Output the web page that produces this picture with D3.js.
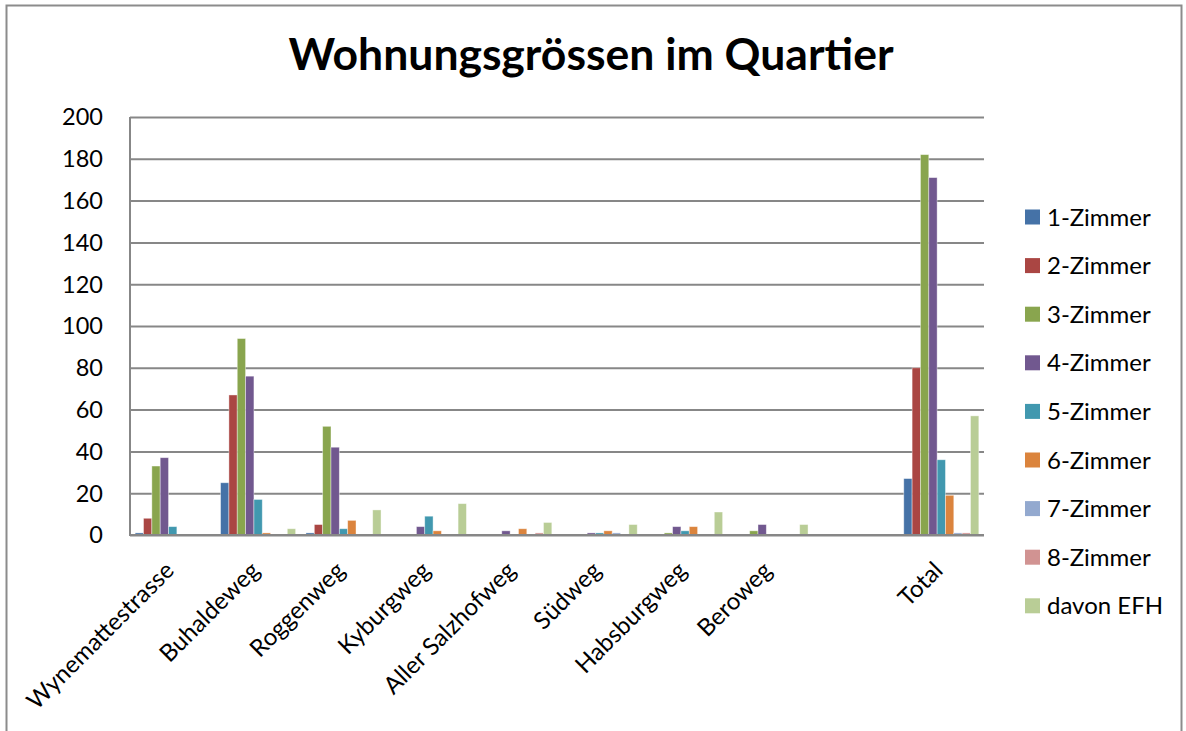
<!DOCTYPE html>
<meta charset="utf-8">
<style>

body {
  margin: 0;
  background: #fff;
}

text {
  font-family: Lato, "Open Sans", sans-serif;
  fill: #000;
}

</style>
<body>
<script src="https://cdn.jsdelivr.net/npm/d3@7"></script>
<script>

var width = 1186,
    height = 731;

var streets = ["Wynemattestrasse", "Buhaldeweg", "Roggenweg", "Kyburgweg", "Aller Salzhofweg",
               "Südweg", "Habsburgweg", "Beroweg", "", "Total"];

var seriesNames = ["1-Zimmer", "2-Zimmer", "3-Zimmer", "4-Zimmer", "5-Zimmer",
                   "6-Zimmer", "7-Zimmer", "8-Zimmer", "davon EFH"];

var colors = ["#4572a7", "#aa4643", "#89a54e", "#71588f", "#4198af",
              "#db843d", "#93a9cf", "#d19392", "#b9cd96"];

// one array per series, in street order
var zimmer1 = [1, 25, 1, 0, 0, 0, 0, 0, null, 27],
    zimmer2 = [8, 67, 5, 0, 0, 0, 0, 0, null, 80],
    zimmer3 = [33, 94, 52, 0, 0, 0, 1, 2, null, 182],
    zimmer4 = [37, 76, 42, 4, 2, 1, 4, 5, null, 171],
    zimmer5 = [4, 17, 3, 9, 0, 1, 2, 0, null, 36],
    zimmer6 = [0, 1, 7, 2, 3, 2, 4, 0, null, 19],
    zimmer7 = [0, 0, 0, 0, 0, 1, 0, 0, null, 1],
    zimmer8 = [0, 0, 0, 0, 1, 0, 0, 0, null, 1],
    efh     = [0, 3, 12, 15, 6, 5, 11, 5, null, 57];

var yTicks = [0, 20, 40, 60, 80, 100, 120, 140, 160, 180, 200];

var values = [zimmer1, zimmer2, zimmer3, zimmer4, zimmer5, zimmer6, zimmer7, zimmer8, efh];

var plot = {left: 130, right: 984, top: 117, bottom: 535};

var svg = d3.select("body").append("svg")
    .attr("width", width)
    .attr("height", height);

// chart frame
svg.append("rect")
    .attr("x", 6.5)
    .attr("y", 5.5)
    .attr("width", 1175)
    .attr("height", 760)
    .attr("fill", "none")
    .attr("stroke", "#8c8c8c")
    .attr("stroke-width", 2);

svg.append("text")
    .attr("x", 591)
    .attr("y", 70)
    .attr("text-anchor", "middle")
    .style("font-size", "44.5px")
    .style("font-weight", "bold")
    .text("Wohnungsgrössen im Quartier");

var x0 = d3.scaleBand()
    .domain(d3.range(streets.length))
    .range([plot.left, plot.right]);

var x1 = d3.scaleBand()
    .domain(d3.range(seriesNames.length))
    .range([0, x0.bandwidth()])
    .paddingOuter(0.62);

var y = d3.scaleLinear()
    .domain([0, 200])
    .range([plot.bottom, plot.top]);

// gridlines
svg.append("g")
    .attr("transform", "translate(" + plot.left + ",0)")
    .call(d3.axisLeft(y).tickValues(yTicks).tickSize(-(plot.right - plot.left)).tickFormat(""))
    .call(function(g) {
      g.select(".domain").remove();
      g.selectAll("line").attr("stroke", "#878787").attr("stroke-width", 2);
    });

// y labels
svg.append("g")
    .selectAll("text")
    .data(yTicks)
  .enter().append("text")
    .attr("x", 103)
    .attr("y", function(d) { return y(d); })
    .attr("dy", "0.36em")
    .attr("text-anchor", "end")
    .style("font-size", "23.5px")
    .text(function(d) { return d; });

// bars
var groups = svg.append("g")
    .selectAll("g")
    .data(values)
  .enter().append("g")
    .attr("fill", function(d, i) { return colors[i]; });

groups.each(function(series, si) {
  d3.select(this).selectAll("rect")
      .data(series.map(function(v, i) { return {v: v, i: i}; }).filter(function(d) { return d.v; }))
    .enter().append("rect")
      .attr("x", function(d) { return x0(d.i) + x1(si); })
      .attr("y", function(d) { return y(d.v); })
      .attr("width", x1.bandwidth())
      .attr("height", function(d) { return y(0) - y(d.v); })
      .attr("stroke", "#fff")
      .attr("stroke-opacity", 0.5)
      .attr("stroke-width", 0.8);
});

// axes lines
svg.append("line")
    .attr("x1", plot.left).attr("x2", plot.left)
    .attr("y1", plot.top).attr("y2", plot.bottom + 1)
    .attr("stroke", "#878787").attr("stroke-width", 2);

svg.append("line")
    .attr("x1", plot.left - 1).attr("x2", plot.right)
    .attr("y1", plot.bottom).attr("y2", plot.bottom)
    .attr("stroke", "#878787").attr("stroke-width", 2);

// category labels
svg.append("g")
    .selectAll("text")
    .data(streets)
  .enter().append("text")
    .attr("transform", function(d, i) {
      return "translate(" + (x0(i) + x0.bandwidth() / 2 - 9) + "," + 560 + ") rotate(-45)";
    })
    .attr("text-anchor", "end")
    .attr("dy", "0.7em")
    .style("font-size", "24px")
    .text(function(d) { return d; });

// legend
var legend = svg.append("g")
    .selectAll("g")
    .data(seriesNames)
  .enter().append("g")
    .attr("transform", function(d, i) { return "translate(1025," + (217 + i * 48.6) + ")"; });

legend.append("rect")
    .attr("y", -7.5)
    .attr("width", 15)
    .attr("height", 15)
    .attr("fill", function(d, i) { return colors[i]; });

legend.append("text")
    .attr("x", 22)
    .attr("dy", "0.36em")
    .style("font-size", "24px")
    .text(function(d) { return d; });

</script>
